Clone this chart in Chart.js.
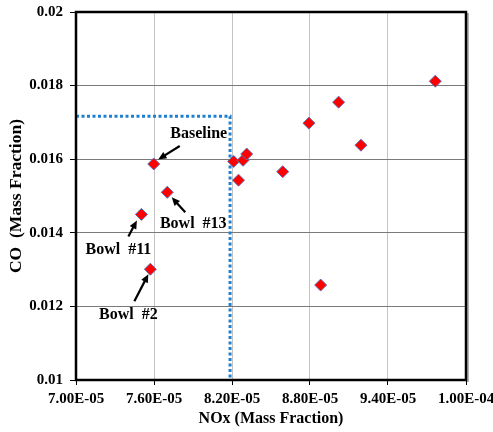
<!DOCTYPE html>
<html>
<head>
<meta charset="utf-8">
<script src="https://cdn.jsdelivr.net/npm/chart.js@4"></script>
<style>
  html, body { margin: 0; padding: 0; background: #fff; }
  #wrap { width: 493px; height: 432px; }
</style>
</head>
<body>
<div id="wrap"><canvas id="nox"></canvas></div>
<script>
// NOx vs CO, mass fractions
var noxValues = [7.598e-5, 7.702e-5, 7.503e-5, 7.572e-5, 8.213e-5, 8.250e-5, 8.285e-5,
                 8.313e-5, 8.590e-5, 8.792e-5, 9.020e-5, 9.192e-5, 9.764e-5, 8.882e-5];
var coValues  = [0.01587, 0.01510, 0.01450, 0.01301, 0.01594, 0.01543, 0.01597,
                 0.01614, 0.01566, 0.01698, 0.01755, 0.01638, 0.01812, 0.01258];
// label for some points (index into the arrays above)
var pointLabels = { 0: 'Baseline', 1: 'Bowl  #13', 2: 'Bowl  #11', 3: 'Bowl  #2' };

// dotted limit box
var limitNox = 8.185e-5;
var limitCo = 0.01717;

var xTickValues = [7.0e-5, 7.6e-5, 8.2e-5, 8.8e-5, 9.4e-5, 1.0e-4];
var xTickLabels = ['7.00E-05', '7.60E-05', '8.20E-05', '8.80E-05', '9.40E-05', '1.00E-04'];
var yTickValues = [0.010, 0.012, 0.014, 0.016, 0.018, 0.020];
var yTickLabels = ['0.01', '0.012', '0.014', '0.016', '0.018', '0.02'];

var serif = '"Liberation Serif", "Times New Roman", serif';

// where the text and the arrow go, relative to the point (pixels)
var labelOffsets = {
  0: { text: [45, -30], from: [26, -18], to: [4.5, -4.5] },
  1: { text: [26, 32], from: [18, 20], to: [4.5, 5] },
  2: { text: [-23, 35], from: [-13, 22], to: [-4.5, 6] },
  3: { text: [-22, 46], from: [-16, 32], to: [-2, 5] }
};

var frameAndLabels = {
  id: 'frameAndLabels',
  afterDatasetsDraw: function (chart) {
    var ctx = chart.ctx, a = chart.chartArea;
    var xs = chart.scales.x, ys = chart.scales.y;
    ctx.save();
    // frame
    ctx.strokeStyle = '#999';
    ctx.lineWidth = 1.5;
    ctx.beginPath();
    ctx.moveTo(a.right + 2, a.top + 1);
    ctx.lineTo(a.right + 2, a.bottom + 2);
    ctx.stroke();
    ctx.strokeStyle = '#000';
    ctx.lineWidth = 2.5;
    ctx.strokeRect(a.left, a.top, a.right - a.left, a.bottom - a.top);

    ctx.font = 'bold 16px ' + serif;
    ctx.textAlign = 'center';
    ctx.textBaseline = 'middle';
    Object.keys(pointLabels).forEach(function (k) {
      var px = xs.getPixelForValue(noxValues[k]);
      var py = ys.getPixelForValue(coValues[k]);
      var o = labelOffsets[k];
      var x1 = px + o.from[0], y1 = py + o.from[1];
      var x2 = px + o.to[0], y2 = py + o.to[1];
      var ang = Math.atan2(y2 - y1, x2 - x1);
      var head = 9;
      ctx.strokeStyle = '#000';
      ctx.fillStyle = '#000';
      ctx.lineWidth = 2.2;
      ctx.beginPath();
      ctx.moveTo(x1, y1);
      ctx.lineTo(x2 - Math.cos(ang) * head * 0.8, y2 - Math.sin(ang) * head * 0.8);
      ctx.stroke();
      ctx.beginPath();
      ctx.moveTo(x2, y2);
      ctx.lineTo(x2 - head * Math.cos(ang - 0.42), y2 - head * Math.sin(ang - 0.42));
      ctx.lineTo(x2 - head * Math.cos(ang + 0.42), y2 - head * Math.sin(ang + 0.42));
      ctx.closePath();
      ctx.fill();
      ctx.fillText(pointLabels[k], px + o.text[0], py + o.text[1]);
    });
    ctx.restore();
  }
};

var points = noxValues.map(function (v, i) { return { x: v, y: coValues[i] }; });

new Chart(document.getElementById('nox').getContext('2d'), {
  type: 'scatter',
  data: {
    datasets: [
      {
        data: points,
        pointStyle: 'rectRot',
        pointRadius: 6,
        pointHoverRadius: 6,
        backgroundColor: '#ff0000',
        borderColor: '#5b6fb5',
        borderWidth: 1
      },
      {
        data: [{ x: 7.0e-5, y: limitCo }, { x: limitNox, y: limitCo }, { x: limitNox, y: 0.010 }],
        showLine: true,
        pointRadius: 0,
        borderColor: '#1f7fd0',
        borderWidth: 3,
        borderDash: [3, 2.5],
        fill: false
      }
    ]
  },
  options: {
    responsive: true,
    maintainAspectRatio: false,
    animation: false,
    layout: { padding: { top: 12, right: 27, left: 0, bottom: 0 } },
    plugins: { legend: { display: false }, tooltip: { enabled: false } },
    scales: {
      x: {
        type: 'linear',
        min: 7.0e-5,
        max: 1.0e-4,
        afterBuildTicks: function (s) { s.ticks = xTickValues.map(function (v) { return { value: v }; }); },
        afterFit: function (s) { s.height = 52; s.paddingLeft = 0; s.paddingRight = 0; },
        ticks: {
          autoSkip: false,
          maxRotation: 0,
          padding: 5,
          color: '#000',
          font: { family: serif, size: 15, weight: 'bold' },
          callback: function (v, i) { return xTickLabels[i]; }
        },
        grid: { color: '#c4c4c4', borderDash: [3, 2], tickLength: 5, tickColor: '#000', tickBorderDash: [] },
        border: { display: false },
        title: {
          display: true,
          text: 'NOx (Mass Fraction)',
          color: '#000',
          font: { family: serif, size: 16, weight: 'bold' },
          padding: { top: 0, bottom: 4 }
        }
      },
      y: {
        type: 'linear',
        min: 0.010,
        max: 0.020,
        afterBuildTicks: function (s) { s.ticks = yTickValues.map(function (v) { return { value: v }; }); },
        afterFit: function (s) { s.width = 76; s.paddingTop = 0; s.paddingBottom = 0; },
        ticks: {
          autoSkip: false,
          padding: 7,
          color: '#000',
          font: { family: serif, size: 15, weight: 'bold' },
          callback: function (v, i) { return yTickLabels[i]; }
        },
        grid: { color: '#7a7a7a', borderDash: [3, 2], tickLength: 6, tickColor: '#000', tickBorderDash: [] },
        border: { display: false },
        title: {
          display: true,
          text: 'CO  (Mass Fraction)',
          color: '#000',
          font: { family: serif, size: 17.5, weight: 'bold' },
          padding: { top: 6, bottom: 0 }
        }
      }
    }
  },
  plugins: [frameAndLabels]
});
</script>
</body>
</html>
